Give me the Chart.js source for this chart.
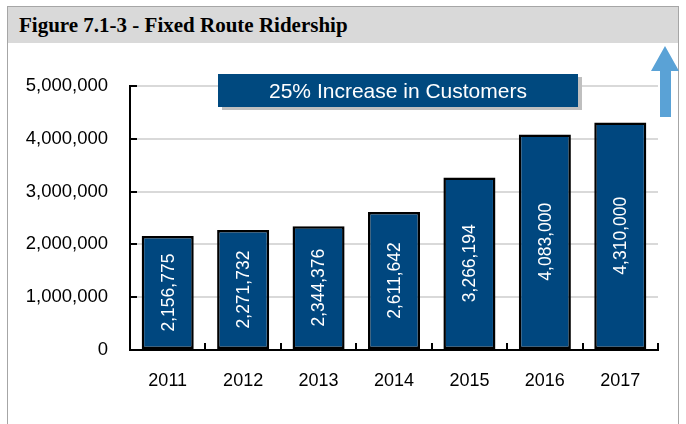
<!DOCTYPE html>
<html>
<head>
<meta charset="utf-8">
<script src="https://cdn.jsdelivr.net/npm/chart.js@4/dist/chart.umd.min.js"></script>
<style>
    body { margin: 0; background: #fff; }
    #wrap { position: relative; width: 686px; height: 424px; overflow: hidden; }
    #frame {
        position: absolute; left: 7px; top: 6px; width: 672px; height: 440px;
        border: 1px solid #a6a6a6; box-sizing: border-box;
    }
    #titleBar {
        position: absolute; left: 8px; top: 7px; width: 670px; height: 36px;
        background: #d9d9d9;
        font: bold 21px "Liberation Serif", "Times New Roman", serif;
        color: #000; line-height: 36px; padding-left: 11px; box-sizing: border-box;
    }
    #chart { position: absolute; left: 0; top: 0; }
    #banner {
        position: absolute; left: 218px; top: 74px; width: 360px; height: 33px;
        background: #00497f; box-shadow: 4px 3px 0 #bfbfbf;
        color: #fff; font: 21px "Liberation Sans", Arial, sans-serif;
        text-align: center; line-height: 33px;
    }
    #arrow { position: absolute; left: 650px; top: 45px; }
</style>
</head>
<body>
<div id="wrap">
    <div id="frame"></div>
    <div id="titleBar">Figure 7.1-3 - Fixed Route Ridership</div>
    <canvas id="chart" width="686" height="424"></canvas>
    <div id="banner">25% Increase in Customers</div>
    <svg id="arrow" width="32" height="74">
        <polygon points="15,1 29,26 21,26 21,72 10,72 10,26 1,26" fill="#5aa2d6"/>
    </svg>
</div>
<script>
// Ridership data
const years = ['2011', '2012', '2013', '2014', '2015', '2016', '2017'];
const riders = [2156775, 2271732, 2344376, 2611642, 3266194, 4083000, 4310000];
const yTicks = [0, 1000000, 2000000, 3000000, 4000000, 5000000];

const fmt = n => n.toLocaleString('en-US');

// value labels, rotated inside each bar
const barLabels = {
    id: 'barLabels',
    afterDatasetsDraw(chart) {
        const ctx = chart.ctx;
        const meta = chart.getDatasetMeta(0);
        ctx.save();
        ctx.fillStyle = '#fff';
        ctx.font = '17.5px "Liberation Sans", Arial, sans-serif';
        ctx.textAlign = 'center';
        ctx.textBaseline = 'middle';
        meta.data.forEach((bar, i) => {
            const cy = (bar.y + bar.base) / 2;
            ctx.save();
            ctx.translate(bar.x, cy);
            ctx.rotate(-Math.PI / 2);
            ctx.fillText(fmt(riders[i]), 0, 1);
            ctx.restore();
        });
        ctx.restore();
    }
};

// short tick marks pointing into the plot
const innerTicks = {
    id: 'innerTicks',
    afterDraw(chart) {
        const ctx = chart.ctx;
        const x = chart.scales.x, y = chart.scales.y;
        ctx.save();
        ctx.strokeStyle = '#000';
        ctx.lineWidth = 2;
        ctx.beginPath();
        yTicks.forEach(v => {
            const py = Math.round(y.getPixelForValue(v));
            ctx.moveTo(x.left, py);
            ctx.lineTo(x.left + 7, py);
        });
        for (let i = 0; i <= years.length; i++) {
            const px = Math.round(x.getPixelForValue(i - 0.5));
            ctx.moveTo(px, y.bottom);
            ctx.lineTo(px, y.bottom - 7);
        }
        ctx.stroke();
        ctx.restore();
    }
};

new Chart(document.getElementById('chart'), {
    type: 'bar',
    data: {
        labels: years,
        datasets: [{
            data: riders,
            backgroundColor: '#00477f',
            borderColor: '#000',
            borderWidth: 2.5,
            borderSkipped: false,
            categoryPercentage: 1,
            barPercentage: 0.69
        }]
    },
    options: {
        responsive: false,
        animation: false,
        devicePixelRatio: 1,
        layout: { padding: { top: 86, right: 28, left: 0, bottom: 0 } },
        plugins: { legend: { display: false }, tooltip: { enabled: false } },
        scales: {
            x: {
                afterFit: s => { s.height = 74; },
                grid: { display: false },
                border: { color: '#000', width: 2 },
                ticks: {
                    color: '#000', padding: 12,
                    font: { family: '"Liberation Sans", Arial, sans-serif', size: 18 }
                }
            },
            y: {
                min: 0, max: 5000000,
                afterFit: s => { s.width = 130; },
                afterBuildTicks: s => { s.ticks = yTicks.map(v => ({ value: v })); },
                grid: { color: '#d9d9d9', lineWidth: 2, drawTicks: false },
                border: { color: '#000', width: 2 },
                ticks: {
                    color: '#000', padding: 22,
                    font: { family: '"Liberation Sans", Arial, sans-serif', size: 18.5 },
                    callback: v => fmt(v)
                }
            }
        }
    },
    plugins: [barLabels, innerTicks]
});
</script>
</body>
</html>
